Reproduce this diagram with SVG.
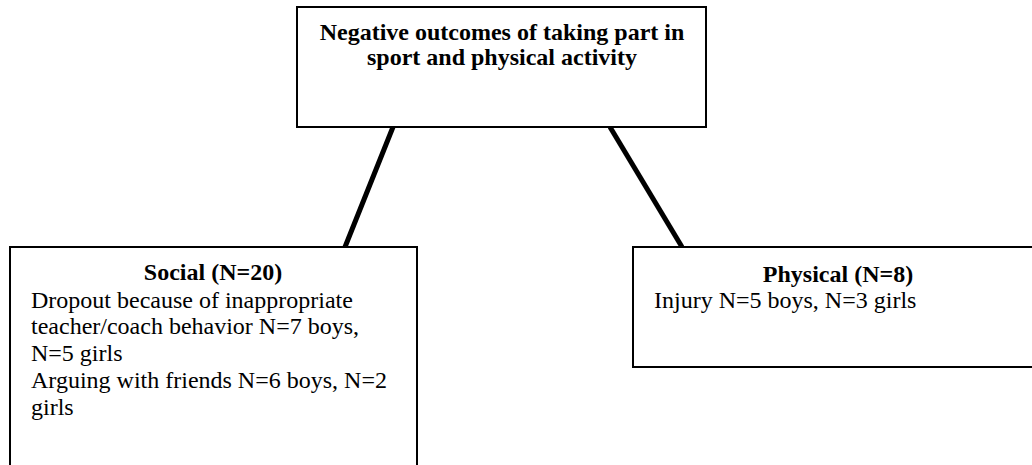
<svg xmlns="http://www.w3.org/2000/svg" width="1032" height="465" viewBox="0 0 1032 465">
<style>
.box{fill:#fff;stroke:#000;stroke-width:2}
.t{font-family:"Liberation Serif","Times New Roman",serif;font-size:24px;fill:#000}
.b{font-weight:bold}
.c{stroke:#000;stroke-width:5;fill:none}
</style>
<rect width="1032" height="465" fill="#fff"/>
<g id="connectors">
<line class="c" x1="393" y1="127" x2="345" y2="247"/>
<line class="c" x1="610" y1="127" x2="682" y2="247"/>
</g>
<g id="root">
<rect class="box" x="297" y="7" width="409" height="120"/>
<text class="t b" x="502" y="40" text-anchor="middle">Negative outcomes of taking part in</text>
<text class="t b" x="502" y="65" text-anchor="middle">sport and physical activity</text>
</g>
<g id="social">
<rect class="box" x="10" y="247" width="407" height="240"/>
<text class="t b" x="213" y="280" text-anchor="middle">Social (N=20)</text>
<text class="t" x="31" y="308">Dropout because of inappropriate</text>
<text class="t" x="31" y="334">teacher/coach behavior N=7 boys,</text>
<text class="t" x="31" y="361">N=5 girls</text>
<text class="t" x="31" y="388">Arguing with friends N=6 boys, N=2</text>
<text class="t" x="31" y="415">girls</text>
</g>
<g id="physical">
<rect class="box" x="633" y="247" width="410" height="120"/>
<text class="t b" x="838" y="282" text-anchor="middle">Physical (N=8)</text>
<text class="t" x="654" y="308">Injury N=5 boys, N=3 girls</text>
</g>
</svg>
